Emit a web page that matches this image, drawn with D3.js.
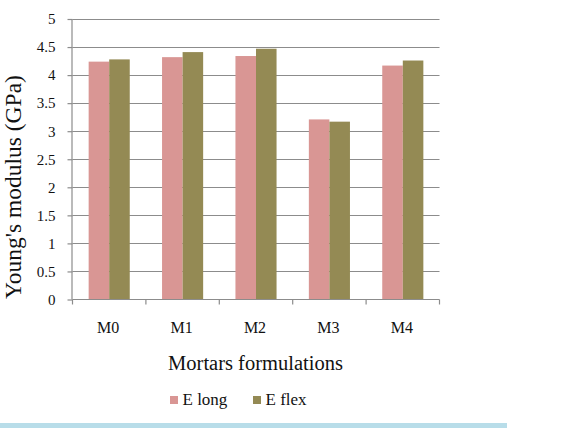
<!DOCTYPE html>
<html><head><meta charset="utf-8">
<script src="https://cdn.jsdelivr.net/npm/d3@7"></script>
<style>body{margin:0;background:#fff}svg{display:block}</style>
</head><body>
<script>
const categories = ["M0","M1","M2","M3","M4"];
const seriesNames = ["E long","E flex"];
const eLong = [4.24, 4.32, 4.34, 3.21, 4.17];
const eFlex = [4.28, 4.41, 4.47, 3.17, 4.26];
const yTicks = [0,0.5,1,1.5,2,2.5,3,3.5,4,4.5,5];
const colors = ["#d99694","#948a54"];

(function(){
const W=565,H=428;
const svg=d3.select("body").append("svg").attr("width",W).attr("height",H);
const font="'Liberation Serif','Times New Roman',serif";
const pL=72.5,pR=439.5,pT=19,pB=299.5;

const x=d3.scaleBand().domain(categories).range([pL,pR]).paddingInner(0.44).paddingOuter(0.22);
const xs=d3.scaleBand().domain(seriesNames).range([0,x.bandwidth()]);
const y=d3.scaleLinear().domain([0,5]).range([pB,pT]);

// gridlines
svg.append("g").selectAll("line").data(yTicks.filter(d=>d>0)).join("line")
  .attr("x1",pL).attr("x2",pR).attr("y1",d=>Math.round(y(d))+0.5).attr("y2",d=>Math.round(y(d))+0.5)
  .attr("stroke","#8c8c8c").attr("stroke-width",1.2);

// bars
const data=categories.map((c,i)=>({c,vals:[eLong[i],eFlex[i]]}));
const g=svg.append("g").selectAll("g").data(data).join("g").attr("transform",d=>`translate(${x(d.c)},0)`);
g.selectAll("rect").data(d=>d.vals.map((v,j)=>({v,s:seriesNames[j],j}))).join("rect")
  .attr("x",d=>xs(d.s)).attr("width",xs.bandwidth()).attr("y",d=>y(d.v)).attr("height",d=>y(0)-y(d.v))
  .attr("fill",d=>colors[d.j]);

// y axis
const ya=svg.append("g").attr("transform",`translate(${pL},0)`)
  .call(d3.axisLeft(y).tickValues(yTicks).tickSize(5).tickPadding(12).tickFormat(d=>String(d)));
ya.selectAll("path,line").attr("stroke","#8c8c8c").attr("stroke-width",1.2);
ya.select(".domain").attr("d",`M-0.5,${pT}V${pB}`);
ya.selectAll("text").attr("font-family",font).attr("font-size",15).attr("fill","#111");

// x axis
const xTickPos=d3.range(categories.length+1).map(i=>pL+i*(pR-pL)/categories.length);
const xa=svg.append("g");
xa.append("line").attr("x1",pL).attr("x2",pR).attr("y1",pB).attr("y2",pB).attr("stroke","#8c8c8c").attr("stroke-width",1.2);
xa.selectAll("line.t").data(xTickPos).join("line").attr("class","t")
  .attr("x1",d=>d).attr("x2",d=>d).attr("y1",pB).attr("y2",pB+5).attr("stroke","#8c8c8c").attr("stroke-width",1.2);
xa.selectAll("text").data(categories).join("text")
  .attr("x",d=>x(d)+x.bandwidth()/2-1).attr("y",333).attr("text-anchor","middle")
  .attr("font-family",font).attr("font-size",16).attr("fill","#111").text(d=>d);

// titles
svg.append("text").attr("x",255.5).attr("y",370).attr("text-anchor","middle")
  .attr("font-family",font).attr("font-size",20.5).attr("fill","#111").text("Mortars formulations");
svg.append("text").attr("transform","translate(21,187) rotate(-90)").attr("text-anchor","middle")
  .attr("font-family",font).attr("font-size",23.5).attr("fill","#111").text("Young's modulus (GPa)");

// legend
const leg=[{n:seriesNames[0],x:170},{n:seriesNames[1],x:253}];
const lg=svg.append("g").selectAll("g").data(leg).join("g");
lg.append("rect").attr("x",d=>d.x).attr("y",396).attr("width",8).attr("height",8).attr("fill",(d,i)=>colors[i]);
lg.append("text").attr("x",d=>d.x+12.5).attr("y",405).attr("font-family",font).attr("font-size",17).attr("fill","#111").text(d=>d.n);

// bottom band
svg.append("rect").attr("x",0).attr("y",423).attr("width",507).attr("height",5).attr("fill","#b8dde9");
})();
</script>
</body></html>
